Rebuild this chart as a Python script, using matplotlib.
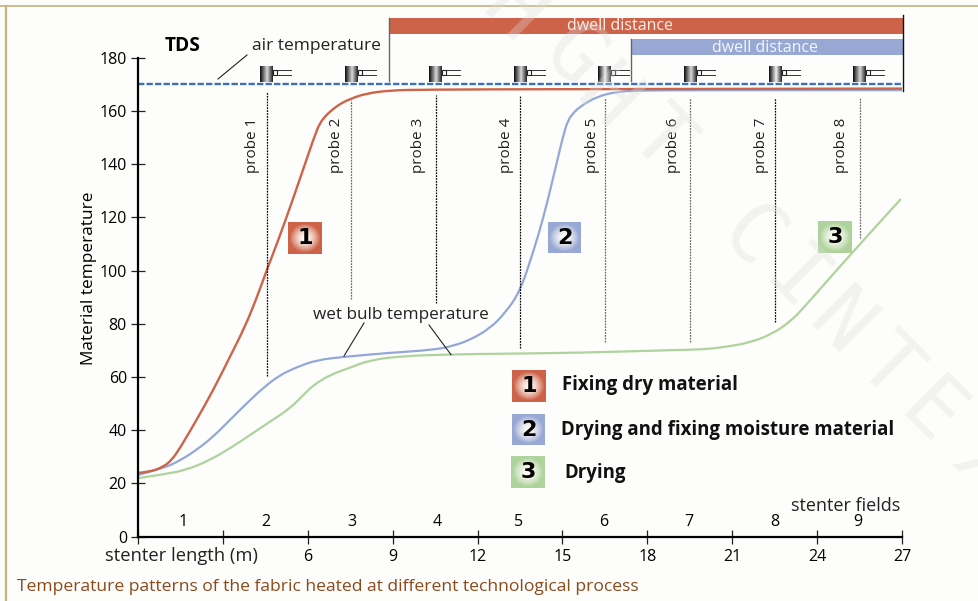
import numpy as np
import matplotlib
matplotlib.use('Agg')
import matplotlib.pyplot as plt
from matplotlib.patches import Rectangle, PathPatch
from matplotlib.path import Path

plt.rcParams['font.family'] = ['Open Sans', 'DejaVu Sans']

# curves: metres / deg C
red_x = [0, 0.42, 0.9, 1.19, 1.48, 2.07, 2.66, 3.25, 3.78, 4.19, 4.55, 4.96, 5.49, 6.25, 6.43, 6.6, 6.78, 7.1, 7.49,
         8.08, 8.9, 10, 15, 27]
red_y = [24, 24.3, 26.3, 28.8, 33.2, 43.9, 55.1, 67.6, 78.9, 89.6, 100.2, 111.5, 127.2, 151, 155.4, 157.8, 159.7,
         162.4, 164.5, 166.6, 167.7, 168, 168.2, 168.4]
blue_x = [0, 0.9, 1.48, 2.07, 2.66, 3.25, 3.84, 4.43, 5.02, 5.61, 6.31, 7.37, 8.9, 10.43, 11.1, 11.73, 12.44, 12.97,
          13.5, 13.97, 14.32, 14.67, 15.03, 15.2, 15.4, 15.62, 16.2, 16.9, 17.7, 20, 27]
blue_y = [23.2, 25.7, 28.6, 32.6, 37.6, 43.9, 50.1, 56, 60.8, 63.7, 66.4, 67.7, 69.1, 70.2, 71.6, 73.9, 78.3, 84,
          92.1, 107.1, 119.6, 134.7, 151, 156.6, 159.4, 161.6, 165.3, 167.2, 167.7, 167.8, 167.8]
green_x = [0, 0.9, 1.72, 2.54, 3.25, 3.96, 4.66, 5.37, 5.84, 6.2, 6.78, 7.49, 8.2, 9.37, 11.02, 13.14, 15.53, 19.17,
           20.0, 20.68, 21.63, 22.45, 23.04, 23.51, 25.16, 26.96]
green_y = [22, 23.4, 25.1, 28.8, 33.2, 38.2, 43.2, 48.2, 53.2, 57, 60.8, 63.5, 66.4, 67.9, 68.5, 68.8, 69.1, 70.2,
           70.4, 71.2, 72.9, 76.4, 80.8, 85.8, 105.9, 126.9]
air_temp = 170

y_ticks = [0, 20, 40, 60, 80, 100, 120, 140, 160, 180]
x_ticks = [0, 3, 6, 9, 12, 15, 18, 21, 24, 27]
x_labels = ['', '', '6', '9', '12', '15', '18', '21', '24', '27']

fields = ['1', '2', '3', '4', '5', '6', '7', '8', '9']
field_x = [1.59, 4.52, 7.56, 10.56, 13.46, 16.47, 19.47, 22.5, 25.45]

probes = ['probe 1', 'probe 2', 'probe 3', 'probe 4', 'probe 5', 'probe 6', 'probe 7', 'probe 8']
probe_x = [4.55, 7.53, 10.52, 13.5, 16.5, 19.5, 22.5, 25.5]
probe_top = [167, 164, 166, 165.5, 165, 165, 164.8, 165]
probe_bottom = [60.5, 89.4, 87.9, 70.9, 73.2, 73.2, 80.8, 112.3]

legend_names = ['Fixing dry material', 'Drying and fixing moisture material', 'Drying']

RED = '#cd6348'
BLUE = '#98a8d4'
GREEN = '#aed39c'
BG = '#fdfdfb'

fig = plt.figure(figsize=(9.79, 6.01), dpi=100, facecolor=BG)

# main axes sit exactly on the chart frame, pix is an overlay in picture pixels
ax = fig.add_axes([138 / 979, 1 - 536.7 / 601, 764 / 979, 479 / 601])
ax.patch.set_alpha(0)
pix = fig.add_axes([0, 0, 1, 1], zorder=3)
pix.patch.set_alpha(0)
pix.axis('off')


def smooth_line(xs, ys, color, lw):
    # the read points act as quadratic bezier controls so the curve has no corners
    pts = np.column_stack([xs, ys])
    verts = [pts[0]]
    codes = [Path.MOVETO]
    for i in range(1, len(pts) - 1):
        end = (pts[i] + pts[i + 1]) / 2 if i < len(pts) - 2 else pts[-1]
        verts += [pts[i], end]
        codes += [Path.CURVE3, Path.CURVE3]
    ax.add_patch(PathPatch(Path(verts, codes), fill=False, ec=color, lw=lw, clip_on=False, capstyle='butt'))


smooth_line(blue_x, blue_y, '#93a8d8', 1.6)
smooth_line(green_x, green_y, GREEN, 1.6)
smooth_line(red_x, red_y, RED, 1.7)
ax.plot([0, 27], [air_temp, air_temp], color='#3b70bb', lw=1.7, ls=(0, (2.7, 0.9)), clip_on=False)

for i, x in enumerate(probe_x):
    c = '#666666' if i in (1, 4, 5, 7) else 'black'
    ax.plot([x, x], [probe_bottom[i], probe_top[i]], color=c, lw=0.9, ls=(0, (1.4, 0.9)))

ax.set_xlim(0, 27)
ax.set_ylim(0, 180)
ax.set_xticks(x_ticks)
ax.set_xticklabels(x_labels)
ax.set_yticks(y_ticks)
for s in ['top', 'right']:
    ax.spines[s].set_visible(False)
for s in ['left', 'bottom']:
    ax.spines[s].set_linewidth(1.6)
ax.tick_params(axis='both', direction='inout', length=10, width=0.9, labelsize=11.5, color='#222222')
ax.tick_params(axis='x', pad=3.5)
ax.tick_params(axis='y', pad=3)
ax.set_ylabel('Material temperature', fontsize=12.4, labelpad=0)
ax.yaxis.set_label_coords(-41 / 764, 0.54)

for name, x in zip(fields, field_x):
    ax.text(x, 5.6, name, ha='center', va='center', fontsize=11.5)

# frame, top bars
pix.plot([0, 979], [5.7, 5.7], color='#c8b27d', lw=1.2)
pix.plot([6.5, 6.5], [5.7, 601], color='#c8b27d', lw=1.6)
pix.add_patch(Rectangle((389, 18), 514, 16, color=RED, lw=0))
pix.add_patch(Rectangle((631, 39), 272, 16, color=BLUE, lw=0))
pix.plot([389, 389], [18, 81], color='#666666', lw=1)
pix.plot([631, 631], [39, 81], color='#666666', lw=1)
pix.plot([903, 903], [15, 91], color='#111111', lw=1)
pix.text(620, 26, 'dwell distance', color='#fdf0ea', fontsize=11.5, ha='center', va='center')
pix.text(765, 48, 'dwell distance', color='#f4f6fc', fontsize=11.5, ha='center', va='center')


def draw_probe(x0, peak):
    # gradient cylinder with a small connector and a rod
    t = np.linspace(0, 1, 30)
    g = np.where(t < 0.55, 0.05 + t / 0.55 * (peak - 0.05), peak - (t - 0.55) / 0.45 * (peak - 0.15))
    pix.imshow(g[None, :], cmap='gray', vmin=0, vmax=1, extent=[x0, x0 + 12.5, 81.7, 66], aspect='auto', zorder=2)
    pix.add_patch(Rectangle((x0 + 13.2, 69.5), 4, 5.5, fc=BG, ec='#222222', lw=0.8, zorder=2))
    pix.plot([x0 + 17.2, x0 + 31], [69.7, 69.7], color='#333333', lw=0.7)
    pix.plot([x0 + 17.2, x0 + 31], [74.7, 74.7], color='#333333', lw=0.7)


for i, x0 in enumerate([260, 345, 429, 514, 598, 684, 769, 853]):
    draw_probe(x0, 0.95 if i in (4, 6) else 0.85)

label_x = [252, 337, 419, 507, 593, 674, 762, 842]
for name, x in zip(probes, label_x):
    pix.text(x, 173, name, rotation=90, ha='center', va='bottom', fontsize=11, color='#222222')

pix.text(165, 46, 'TDS', fontsize=13.8, fontweight='bold', va='center', ha='left')
pix.text(252, 46, 'air temperature', fontsize=12.5, va='center', ha='left', color='#222222')
pix.plot([247, 218], [55, 79], color='#222222', lw=0.8)
pix.text(313, 315, 'wet bulb temperature', fontsize=12.3, va='center', ha='left', color='#222222')
pix.plot([364, 344], [323, 356], color='#222222', lw=0.8)
pix.plot([429, 451], [325, 354.7], color='#222222', lw=0.8)


def draw_badge(x0, y0, x1, y1, color, num):
    # square with a pale radial glow behind the number
    yy, xx = np.mgrid[-1:1:60j, -1:1:60j]
    r = np.clip(np.sqrt(xx ** 2 + yy ** 2) / 0.92, 0, 1)
    base = np.array(matplotlib.colors.to_rgb(color))
    a = r[..., None] ** 1.6
    img = (1 - a) * np.array([1, 0.99, 0.97]) + a * base
    img[np.sqrt(xx ** 2 + yy ** 2) > 0.92] = base
    pix.imshow(img, extent=[x0, x1, y1, y0], aspect='auto', zorder=2, interpolation='bilinear')
    pix.text((x0 + x1) / 2, (y0 + y1) / 2, num, fontsize=16, fontweight='bold', family='DejaVu Sans',
             ha='center', va='center', color='black', zorder=4)


draw_badge(288, 222, 322, 254, RED, '1')
draw_badge(548, 222, 581, 253, BLUE, '2')
draw_badge(818, 221, 852, 253, GREEN, '3')
draw_badge(512, 370, 546, 402, RED, '1')
draw_badge(512, 414, 545, 445, BLUE, '2')
draw_badge(511, 456, 545, 488, GREEN, '3')

for name, x, y in zip(legend_names, [562, 561.5, 564], [385, 430, 473]):
    pix.text(x, y, name, fontsize=13.45, fontweight='bold', va='center', ha='left', color='#111111')

pix.text(791, 506, 'stenter fields', fontsize=13, va='center', ha='left', color='#222222')
pix.text(105, 556, 'stenter length (m)', fontsize=13.2, va='center', ha='left', color='#222222')
pix.text(17, 587, 'Temperature patterns of the fabric heated at different technological process',
         fontsize=12.6, va='center', ha='left', color='#8b4a1c')

# watermark, laid over everything
wm_letters = ['H', 'G', 'H', 'T', 'C', 'I', 'N', 'T', 'E', 'X']
wm_x = [513, 573, 607, 660, 750, 795, 840, 888, 930, 985]
wm_y = [13, 57, 100, 140, 238, 282, 325, 368, 415, 465]
for ch, x, y in zip(wm_letters, wm_x, wm_y):
    pix.text(x, y, ch, fontsize=60, rotation=-45, ha='center', va='center', color='#dddddd', alpha=0.32,
             zorder=6, family='DejaVu Sans Mono', clip_on=True)

pix.set_xlim(0, 979)
pix.set_ylim(601, 0)

fig.savefig('out.png', dpi=100, facecolor=BG)
